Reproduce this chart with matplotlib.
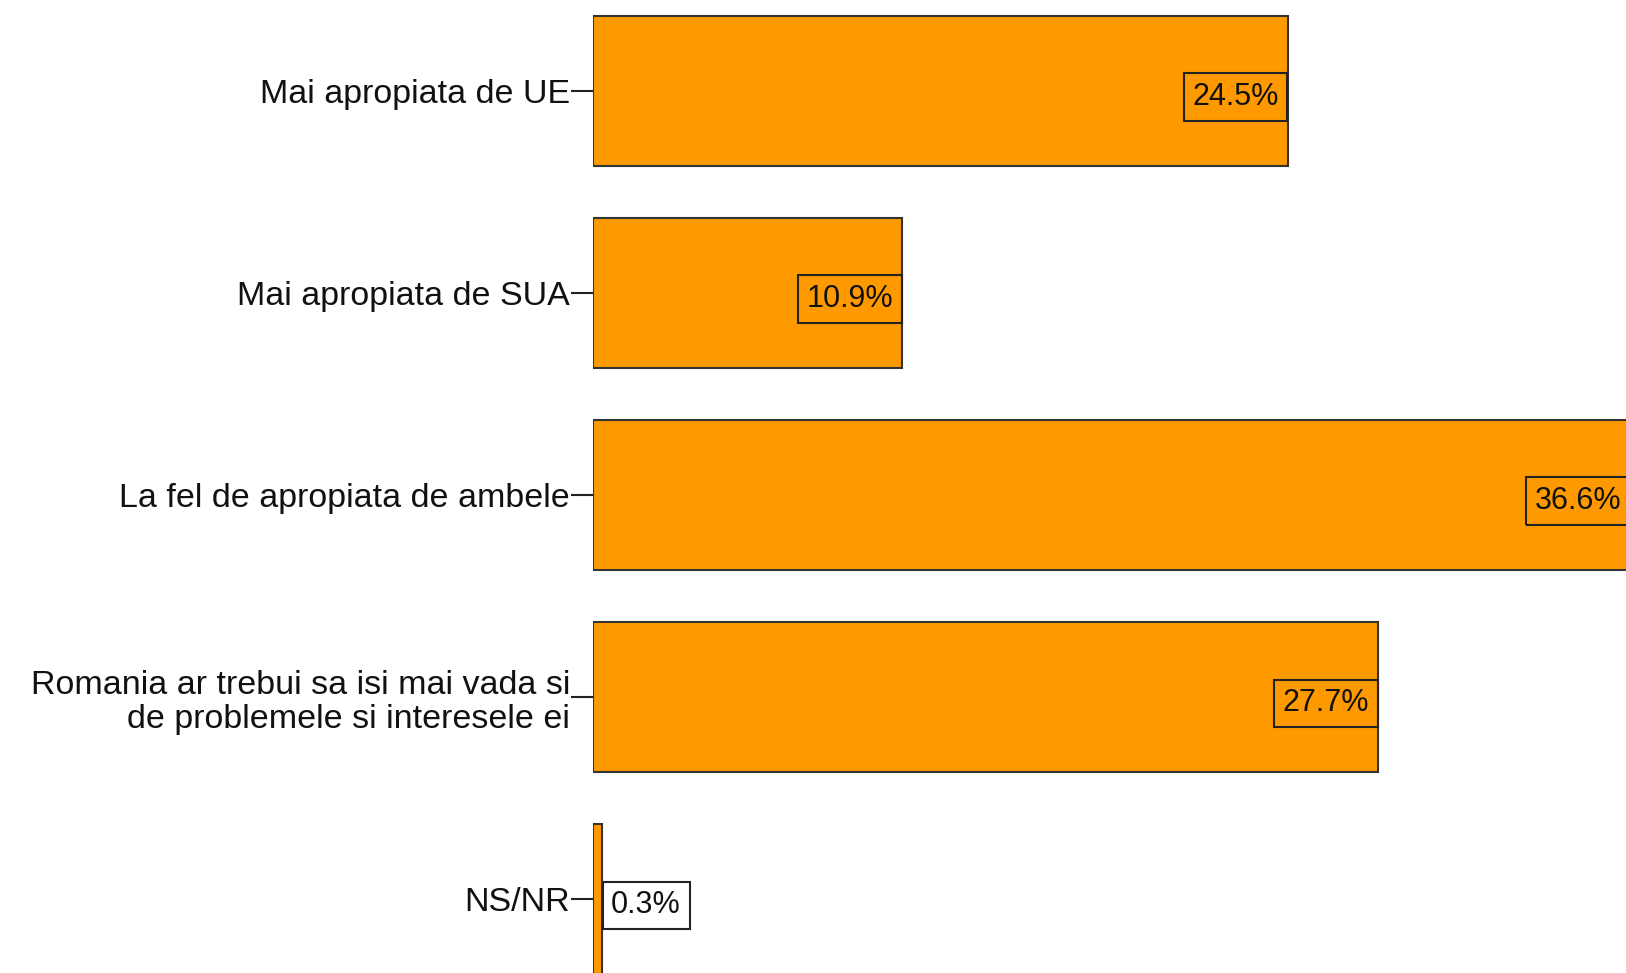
import matplotlib.pyplot as plt

categories = ['Mai apropiata de UE',
              'Mai apropiata de SUA',
              'La fel de apropiata de ambele',
              'Romania ar trebui sa isi mai vada si\nde problemele si interesele ei',
              'NS/NR']
values = [24.5, 10.9, 36.6, 27.7, 0.3]
labels = ['24.5%', '10.9%', '36.6%', '27.7%', '0.3%']

plt.rcParams['font.family'] = ['Liberation Sans', 'DejaVu Sans']

fig = plt.figure(figsize=(16.26, 9.73), dpi=100)
ax = fig.add_axes([593 / 1626, 0, 1 - 593 / 1626, 1])

ypos = list(range(len(categories)))
ax.barh(ypos, values, height=0.743, color='#FF9900', edgecolor='#333333', linewidth=1.5)

for y, v, t in zip(ypos, values, labels):
    if v > 3:
        ax.annotate(t, xy=(v, y + 0.03), xytext=(-6.5, 0), textcoords='offset points',
                    ha='right', va='center', fontsize=22, color='#111111', annotation_clip=False,
                    bbox=dict(boxstyle='square,pad=0.28', facecolor='none', edgecolor='#222222', linewidth=1.5))
    else:
        ax.annotate(t, xy=(v, y + 0.03), xytext=(7, 0), textcoords='offset points',
                    ha='left', va='center', fontsize=22, color='#111111', annotation_clip=False,
                    bbox=dict(boxstyle='square,pad=0.28', facecolor='white', edgecolor='#222222', linewidth=1.5))

ax.set_xlim(0, 1033 / 28.35)
ax.set_ylim(4.366, -0.45)
ax.set_yticks(ypos)
ax.set_yticklabels(categories, fontsize=24.5, color='#111111', linespacing=1.15)
ax.tick_params(axis='y', length=15.5, width=1.5, color='#222222', pad=1)
ax.set_xticks([])
for s in ['top', 'right', 'bottom', 'left']:
    ax.spines[s].set_visible(False)

fig.savefig('out.png', dpi=100)
